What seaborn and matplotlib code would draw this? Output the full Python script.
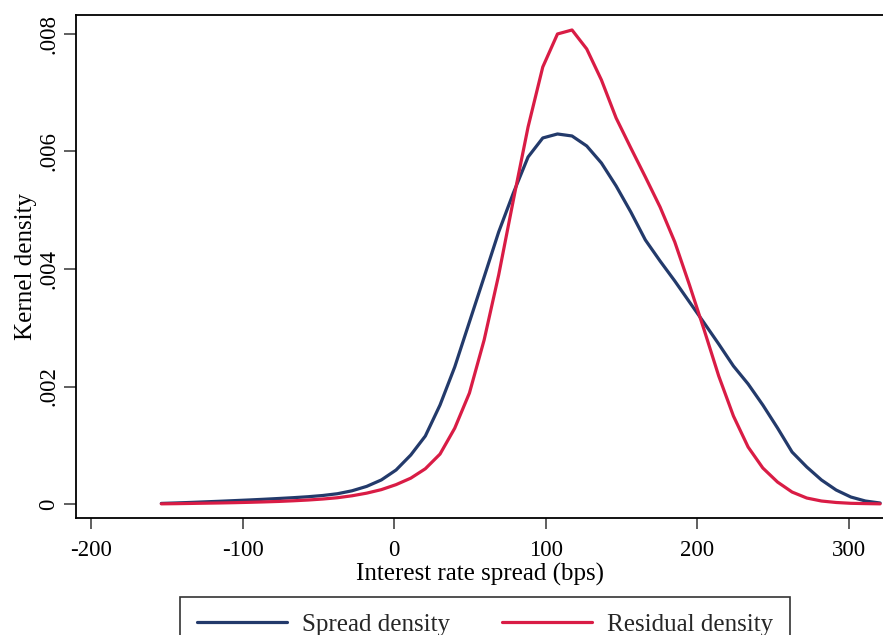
import numpy as np
import pandas as pd
import matplotlib
matplotlib.use("Agg")
import matplotlib.pyplot as plt
import seaborn as sns

# Evaluation grid (bps) and the two kernel density estimates
grid_bps = [-153.7, -144.0, -134.3, -124.7, -115.0, -105.3, -95.6, -85.9, -76.3, -66.6,
            -56.9, -47.2, -37.5, -27.9, -18.2, -8.5, 1.2, 10.9, 20.5, 30.2,
            39.9, 49.6, 59.3, 68.9, 78.6, 88.3, 98.0, 107.7, 117.3, 127.0,
            136.7, 146.4, 156.1, 165.7, 175.4, 185.1, 194.8, 204.5, 214.1, 223.8,
            233.5, 243.2, 252.9, 262.5, 272.2, 281.9, 291.6, 301.3, 310.9, 320.6]

spread_density = [0.000010, 0.000018, 0.000027, 0.000037, 0.000047, 0.000058, 0.000069, 0.000081, 0.000094, 0.000108,
                  0.000124, 0.000145, 0.000175, 0.000225, 0.000300, 0.000410, 0.000579, 0.000834, 0.001157, 0.001685,
                  0.002332, 0.003098, 0.003864, 0.004630, 0.005294, 0.005906, 0.006230, 0.006298, 0.006264, 0.006094,
                  0.005804, 0.005413, 0.004970, 0.004494, 0.004136, 0.003796, 0.003438, 0.003081, 0.002723, 0.002349,
                  0.002043, 0.001685, 0.001294, 0.000885, 0.000630, 0.000409, 0.000238, 0.000119, 0.000051, 0.000017]

residual_density = [0.000003, 0.000006, 0.000010, 0.000014, 0.000018, 0.000023, 0.000029, 0.000036, 0.000044, 0.000055,
                    0.000068, 0.000085, 0.000107, 0.000140, 0.000185, 0.000245, 0.000330, 0.000440, 0.000600, 0.000850,
                    0.001290, 0.001889, 0.002791, 0.003898, 0.005174, 0.006417, 0.007438, 0.008000, 0.008068, 0.007745,
                    0.007217, 0.006570, 0.006060, 0.005566, 0.005055, 0.004460, 0.003728, 0.002962, 0.002179, 0.001498,
                    0.000970, 0.000613, 0.000374, 0.000204, 0.000102, 0.000051, 0.000026, 0.000012, 0.000007, 0.000003]

series_names = ["Spread density", "Residual density"]
x_ticks = [-200, -100, 0, 100, 200, 300]
x_tick_labels = ["-200", "-100", "0", "100", "200", "300"]
y_ticks = [0, 0.002, 0.004, 0.006, 0.008]
y_tick_labels = ["0", ".002", ".004", ".006", ".008"]

df = pd.DataFrame({
    "x": grid_bps * 2,
    "density": spread_density + residual_density,
    "series": [series_names[0]] * len(grid_bps) + [series_names[1]] * len(grid_bps),
})

sns.set_theme(style="white")
plt.rcParams["font.family"] = ["Liberation Serif", "DejaVu Serif"]

fig = plt.figure(figsize=(8.83, 6.35), dpi=100)
ax = fig.add_axes([76 / 883, 1 - 518 / 635, 1 - 76 / 883, (518 - 15) / 635])

palette = {series_names[0]: "#233a6b", series_names[1]: "#d91c45"}
sns.lineplot(data=df, x="x", y="density", hue="series", palette=palette,
             linewidth=2.3, ax=ax, sort=False, estimator=None)

ax.set_xlim(-210, 322.5)
ax.set_ylim(-0.000238, 0.008323)

for side in ["left", "bottom", "top"]:
    ax.spines[side].set_visible(True)
    ax.spines[side].set_color("black")
    ax.spines[side].set_linewidth(1.3)
ax.spines["right"].set_visible(False)

ax.set_xticks(x_ticks)
ax.set_xticklabels(x_tick_labels)
ax.set_yticks(y_ticks)
ax.set_yticklabels(y_tick_labels, rotation=90, va="center")
ax.tick_params(axis="x", direction="out", length=8, width=1.2, color="#444444",
               labelsize=16.5, pad=8, bottom=True, labelcolor="black")
ax.tick_params(axis="y", direction="out", length=9, width=1.2, color="#444444",
               labelsize=16.5, pad=3, left=True, labelcolor="black")

ax.set_xlabel("Interest rate spread (bps)", fontsize=18, labelpad=1, color="black")
ax.set_ylabel("Kernel density", fontsize=18, labelpad=1, color="black")

leg = ax.legend(loc="upper center", bbox_to_anchor=(485 / 883, 1 - 597 / 635),
                bbox_transform=fig.transFigure, ncol=2, frameon=True,
                fancybox=False, edgecolor="black", fontsize=18,
                handlelength=3.6, handletextpad=0.6, columnspacing=2.1,
                borderpad=0.65, borderaxespad=0, title=None)
leg.get_frame().set_linewidth(1.2)
for line in leg.get_lines():
    line.set_linewidth(2.3)

fig.savefig("out.png", dpi=100)
